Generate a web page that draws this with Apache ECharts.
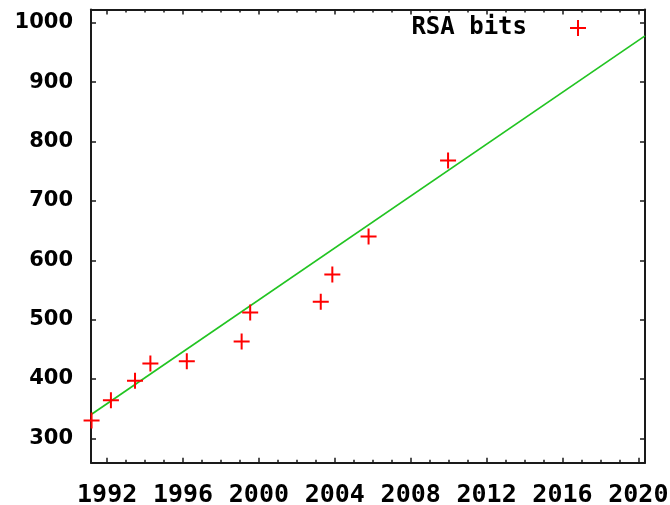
<!DOCTYPE html>
<html><head><meta charset="utf-8">
<script src="https://cdn.jsdelivr.net/npm/echarts@6/dist/echarts.min.js"></script>
<style>html,body{margin:0;padding:0;background:#fff}#c{width:670px;height:505px}</style>
</head><body><div id="c"></div>
<script>
// Data
const seriesName = 'RSA bits';
const years = [1991.18, 1992.2, 1993.47, 1994.28, 1996.2, 1999.09, 1999.54, 2003.26, 2003.87, 2005.78, 2009.97];
const bits = [330, 364, 397, 426, 430, 463, 512, 530, 576, 640, 768];
const fitYears = [1991.2, 2020.35];
const fitBits = [341, 978];
const xMajorTicks = [1992, 1996, 2000, 2004, 2008, 2012, 2016, 2020];
const xMinorTicks = [1992, 1993, 1994, 1995, 1996, 1997, 1998, 1999, 2000, 2001, 2002, 2003, 2004, 2005, 2006, 2007, 2008, 2009, 2010, 2011, 2012, 2013, 2014, 2015, 2016, 2017, 2018, 2019, 2020];
const yTicks = [300, 400, 500, 600, 700, 800, 900, 1000];

const X_MIN = 1991.15, X_MAX = 2020.35, Y_MIN = 259, Y_MAX = 1022.5;
const plusPath = 'path://M7,0H9V7H16V9H9V16H7V9H0V7H7Z';
const axisColor = '#1a1a1a';
const plain = v => String(v);

function xAx(pos, ticks, len, showLine, showLabel) {
  return {
    type: 'value', position: pos, min: X_MIN, max: X_MAX,
    axisLine: { show: showLine, onZero: false, lineStyle: { color: axisColor, width: 2 } },
    axisTick: { show: true, inside: true, length: len, customValues: ticks, lineStyle: { color: axisColor, width: 1.5 } },
    axisLabel: showLabel ? {
      show: true, customValues: xMajorTicks, margin: 20, formatter: plain,
      fontFamily: 'DejaVu Sans Mono', fontWeight: 'bold', fontSize: 25, color: '#000'
    } : { show: false },
    splitLine: { show: false }
  };
}
function yAx(pos, showLabel) {
  return {
    type: 'value', position: pos, min: Y_MIN, max: Y_MAX,
    axisLine: { show: true, onZero: false, lineStyle: { color: axisColor, width: 2 } },
    axisTick: { show: true, inside: true, length: 5, customValues: yTicks, lineStyle: { color: axisColor, width: 1.5 } },
    axisLabel: showLabel ? {
      show: true, customValues: yTicks, margin: 18, formatter: plain,
      fontFamily: 'DejaVu Sans', fontWeight: 'bold', fontSize: 21, color: '#000'
    } : { show: false },
    splitLine: { show: false }
  };
}

const chart = echarts.init(document.getElementById('c'), null, { renderer: 'canvas' });
chart.setOption({
  animation: false,
  backgroundColor: '#fff',
  grid: { left: 91, right: 25, top: 9.5, bottom: 42.3, containLabel: false, outerBoundsMode: 'none' },
  xAxis: [
    xAx('bottom', xMajorTicks, 5, true, true),
    xAx('bottom', xMinorTicks, 3, false, false),
    xAx('top', xMajorTicks, 5, true, false),
    xAx('top', xMinorTicks, 3, false, false)
  ],
  yAxis: [yAx('left', true), yAx('right', false)],
  legend: {
    data: [{ name: seriesName, icon: plusPath }],
    selectedMode: false,
    align: 'right',
    right: 84, top: 16, padding: 0,
    itemWidth: 16, itemHeight: 16,
    textStyle: { fontFamily: 'DejaVu Sans Mono', fontWeight: 'bold', fontSize: 24, color: '#000', padding: [0, 38, 0, 0] }
  },
  series: [
    {
      name: 'fit', type: 'line', xAxisIndex: 0, yAxisIndex: 0,
      data: fitYears.map((x, i) => [x, fitBits[i]]),
      showSymbol: false, symbol: 'none',
      lineStyle: { color: '#22c422', width: 1.7 }, z: 1
    },
    {
      name: seriesName, type: 'scatter', xAxisIndex: 0, yAxisIndex: 0,
      data: years.map((x, i) => [x, bits[i]]),
      symbol: plusPath, symbolSize: 16, clip: false,
      itemStyle: { color: '#ff0000', opacity: 1 }, z: 2
    }
  ]
});
</script></body></html>
